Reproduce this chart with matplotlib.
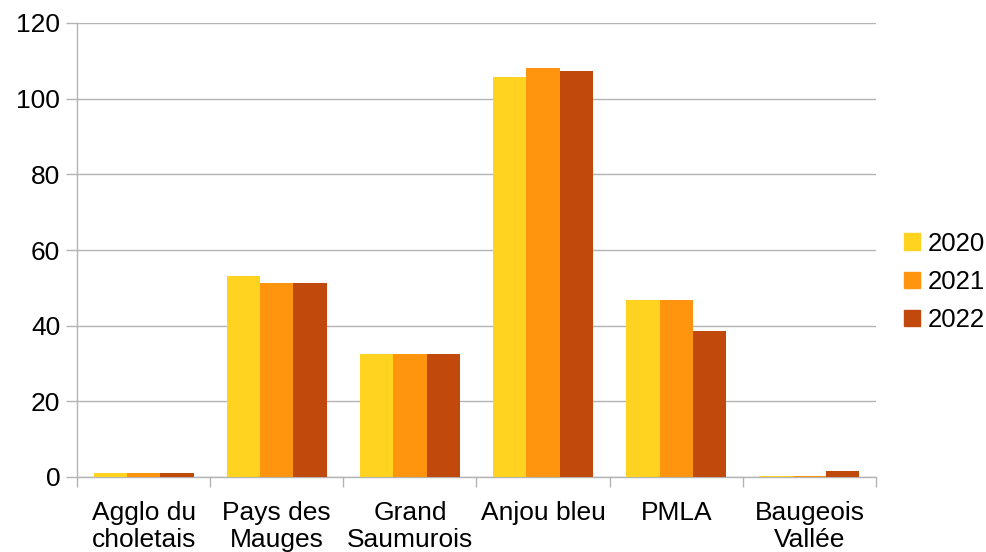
import matplotlib.pyplot as plt
import numpy as np
from matplotlib.patches import Patch

plt.rcParams['font.family'] = ['Liberation Sans', 'DejaVu Sans']

# données
categories = ['Agglo du\ncholetais', 'Pays des\nMauges', 'Grand\nSaumurois',
              'Anjou bleu', 'PMLA', 'Baugeois\nVallée']
years = ['2020', '2021', '2022']
v2020 = [1.0, 53.1, 32.6, 105.7, 46.9, 0.3]
v2021 = [1.0, 51.3, 32.6, 108.2, 46.9, 0.3]
v2022 = [1.0, 51.3, 32.6, 107.2, 38.7, 1.6]
colors = ['#FFD320', '#FF950E', '#C0490B']

fs = 19

fig = plt.figure(figsize=(9.86, 5.52), dpi=100)
ax = fig.add_axes([77 / 986, (552 - 477) / 552, 799 / 986, (477 - 23) / 552])

x = np.arange(len(categories))
w = 0.25
for i, (vals, c) in enumerate(zip([v2020, v2021, v2022], colors)):
    ax.bar(x + (i - 1) * w, vals, width=w, color=c, zorder=3)

ax.set_xlim(-0.5, len(categories) - 0.5)
ax.set_ylim(0, 120)
ax.set_yticks(range(0, 121, 20))
ax.grid(axis='y', color='#b3b3b3', linewidth=1, zorder=0)

ax.set_xticks(x)
ax.set_xticklabels(categories, fontsize=fs, linespacing=1.2)
ax.set_xticks(np.arange(-0.5, len(categories), 1), minor=True)
ax.tick_params(axis='x', which='major', length=0, pad=17)
ax.tick_params(axis='x', which='minor', length=7, color='#b3b3b3', width=1)
ax.tick_params(axis='y', length=8, color='#b3b3b3', width=1, labelsize=fs, pad=4)

for s in ['top', 'right']:
    ax.spines[s].set_visible(False)
for s in ['left', 'bottom']:
    ax.spines[s].set_color('#b3b3b3')
    ax.spines[s].set_linewidth(1)

handles = [Patch(color=c) for c in colors]
fig.legend(handles, years, loc='center left', bbox_to_anchor=(904 / 986, 1 - 282 / 552),
           frameon=False, fontsize=18.5, handlelength=0.62, handleheight=0.62,
           handletextpad=0.3, labelspacing=0.55, borderaxespad=0, borderpad=0)

plt.savefig('out.png', dpi=100)
